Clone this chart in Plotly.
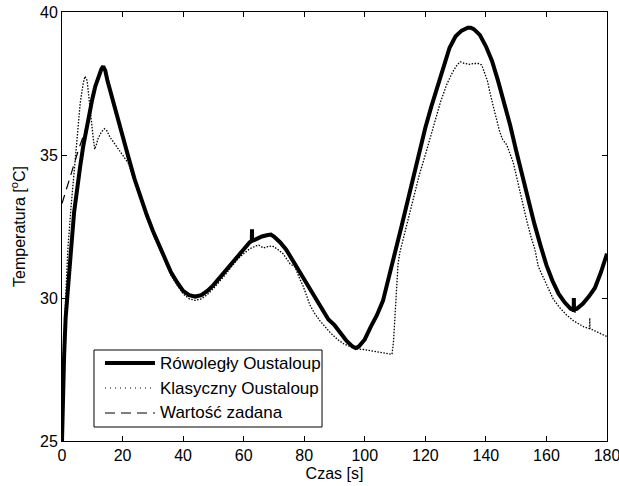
import plotly.graph_objects as go

# Czas [s] i temperatura [°C] - regulator z równoległą aproksymacją Oustaloupa
t_row = [0, 0.3, 0.7, 1.2, 2, 3, 4, 5, 6, 7, 8, 9, 10, 11, 12, 13, 13.6, 14.3, 15, 16,
         18, 20, 22, 24, 26, 28, 30, 32, 34, 36, 38, 40, 42, 44, 46, 48, 50, 52, 54, 56,
         58, 60, 62, 62.7, 62.75, 62.8, 64, 66, 68, 69, 70, 72, 74, 76, 78, 80, 82, 84,
         86, 88, 90, 92, 94, 96, 97, 98, 100, 102, 104, 106, 108, 110, 112, 114, 116,
         118, 120, 122, 124, 126, 128, 130, 132, 134, 135, 136, 138, 140, 142, 144, 146,
         148, 150, 152, 154, 156, 158, 160, 162, 164, 166, 168, 169, 169.05, 169.1, 170,
         172, 174, 176, 178, 180]
T_row = [25.0, 26.6, 28.0, 29.3, 30.6, 31.7, 33.0, 33.9, 34.6, 35.3, 35.9, 36.4, 36.95,
         37.4, 37.75, 38.0, 38.1, 37.95, 37.6, 37.2, 36.45, 35.7, 34.9, 34.15, 33.5, 32.9,
         32.35, 31.85, 31.35, 30.9, 30.55, 30.25, 30.1, 30.05, 30.1, 30.25, 30.45, 30.7,
         30.95, 31.25, 31.5, 31.75, 31.95, 32.0, 32.4, 32.0, 32.05, 32.15, 32.2, 32.22,
         32.15, 31.95, 31.7, 31.35, 31.0, 30.7, 30.35, 29.95, 29.6, 29.25, 29.05, 28.75,
         28.5, 28.3, 28.25, 28.3, 28.55, 29.0, 29.4, 29.9, 30.7, 31.6, 32.45, 33.35, 34.3,
         35.15, 35.95, 36.7, 37.35, 38.05, 38.75, 39.15, 39.35, 39.45, 39.45, 39.4, 39.2,
         38.8, 38.3, 37.6, 36.85, 36.05, 35.15, 34.3, 33.4, 32.6, 31.85, 31.15, 30.6,
         30.15, 29.85, 29.62, 29.58, 30.0, 29.6, 29.62, 29.8, 30.05, 30.35, 30.9, 31.55]

# Regulator z klasyczną aproksymacją Oustaloupa
t_kla = [0, 0.5, 1, 1.5, 2, 3, 4, 5, 6, 7, 7.6, 8.3, 9, 9.7, 10.3, 10.8, 11.3, 12, 13, 14,
         14.8, 16, 18, 20, 22, 24, 26, 28, 30, 32, 34, 36, 38, 40, 42, 44, 46, 48, 50, 52,
         54, 56, 58, 60, 62, 64, 65, 66.5, 68, 69.5, 71, 73, 75.3, 77, 78, 79.7, 81.9,
         83.5, 85.2, 88.5, 91, 93, 95, 97, 99.5, 102, 104, 106, 108, 109, 109.5, 110,
         110.5, 111, 111.6, 113.3, 116, 118, 120.4, 122.5, 125, 127, 129, 130.5, 131.5,
         133, 134.5, 136, 137.5, 138.6, 139.7, 140.5, 141.3, 142.2, 143, 144.6, 145.5,
         146.9, 148, 149, 150, 151.3, 152.5, 153.5, 155, 156.2, 157.3, 159, 160.5, 162.3,
         164.5, 166.7, 169, 172.2, 174.2, 174.3, 174.4, 176, 178, 180]
T_kla = [25.0, 27.6, 29.4, 30.7, 31.8, 33.2, 34.5, 35.7, 36.8, 37.5, 37.75, 37.6, 37.0,
         36.2, 35.6, 35.2, 35.35, 35.6, 35.8, 35.92, 35.85, 35.6, 35.3, 35.0, 34.7, 34.05,
         33.4, 32.8, 32.25, 31.75, 31.25, 30.8, 30.45, 30.15, 29.97, 29.92, 29.97, 30.12,
         30.33, 30.57, 30.82, 31.1, 31.35, 31.55, 31.72, 31.82, 31.85, 31.75, 31.8, 31.82,
         31.72, 31.55, 31.2, 31.08, 30.8, 30.4, 29.75, 29.45, 29.2, 28.8, 28.55, 28.4, 28.3,
         28.22, 28.2, 28.15, 28.12, 28.08, 28.05, 28.03, 28.5, 29.4, 30.3, 31.2, 31.6, 32.3,
         33.45, 34.3, 35.15, 35.9, 36.85, 37.45, 37.9, 38.15, 38.26, 38.2, 38.17, 38.2,
         38.2, 38.15, 37.87, 37.6, 37.2, 36.85, 36.46, 35.8, 35.55, 35.35, 35.0, 34.75,
         34.3, 33.7, 33.1, 32.7, 32.1, 31.7, 31.1, 30.7, 30.35, 29.95, 29.65, 29.4, 29.2,
         29.0, 28.93, 29.3, 28.93, 28.85, 28.75, 28.65]

# Wartość zadana
t_zad = [0, 1, 2, 3, 3.6, 4.5, 5.5, 6.5, 7.5, 8.5, 10, 11, 12, 13, 13.6, 14.3, 16, 18, 20,
         22, 24, 26, 28, 30, 32, 34, 36, 38, 40, 42, 44, 46, 48, 50, 52, 54, 56, 58, 60,
         62, 64, 66, 68, 70, 72, 74, 76, 78, 80, 82, 84, 86, 88, 90, 92, 94, 96, 97, 98,
         100, 102, 104, 106, 108, 110, 112, 114, 116, 118, 120, 122, 124, 126, 128, 130,
         132, 134, 136, 138, 140, 142, 144, 146, 148, 150, 152, 154, 156, 158, 160, 162,
         164, 166, 168, 170, 172, 174, 176, 178, 180]
T_zad = [33.3, 33.65, 34.0, 34.35, 34.6, 34.9, 35.2, 35.5, 35.8, 36.2, 36.9, 37.35, 37.7,
         37.95, 38.05, 37.9, 37.2, 36.45, 35.7, 34.9, 34.15, 33.5, 32.9, 32.35, 31.85,
         31.35, 30.9, 30.55, 30.25, 30.1, 30.05, 30.1, 30.25, 30.45, 30.7, 30.95, 31.25,
         31.5, 31.75, 31.95, 32.05, 32.15, 32.2, 32.15, 31.95, 31.7, 31.35, 31.0, 30.7,
         30.35, 29.95, 29.6, 29.25, 29.05, 28.75, 28.5, 28.3, 28.25, 28.3, 28.55, 29.0,
         29.4, 29.9, 30.7, 31.6, 32.45, 33.35, 34.3, 35.15, 35.95, 36.7, 37.35, 38.05,
         38.75, 39.15, 39.35, 39.45, 39.4, 39.2, 38.85, 38.35, 37.65, 36.9, 36.1, 35.2,
         34.35, 33.45, 32.65, 31.9, 31.2, 30.6, 30.15, 29.85, 29.62, 29.62, 29.8, 30.05,
         30.35, 30.9, 31.55]

series_names = ["Rówoległy Oustaloup", "Klasyczny Oustaloup", "Wartość zadana"]
x_ticks = [0, 20, 40, 60, 80, 100, 120, 140, 160, 180]
y_ticks = [25, 30, 35, 40]

FONT = "Liberation Sans, Arial, Helvetica, sans-serif"

# styles of the three series: (width, dash) for the plot and for the legend key
plot_styles = [(4, "solid"), (1.3, "1.5px,1.5px"), (1.2, "9px,6px")]
key_styles = [(4, "solid"), (1, "1px,4px"), (1.2, "10px,6px")]

fig = go.Figure()
for name, tx, ty, (w, d) in zip(series_names, [t_row, t_kla, t_zad],
                                [T_row, T_kla, T_zad], plot_styles):
    fig.add_trace(go.Scatter(x=tx, y=ty, mode="lines", name=name, showlegend=False,
                             line=dict(color="black", width=w, dash=d)))

axis_common = dict(
    showgrid=False, zeroline=False, showline=True, linecolor="black", linewidth=1,
    mirror="allticks", ticks="inside", ticklen=5, tickwidth=1, tickcolor="black",
    automargin=False, ticklabeloverflow="allow",
    tickfont=dict(family=FONT, size=16, color="black"),
)

# legend box drawn in paper coordinates (bottom-left area of the axes)
box_x0, box_x1, box_y0, box_y1 = 0.0587, 0.4771, 0.0326, 0.2121
key_x0, key_x1, text_x = 0.0789, 0.1706, 0.1761
row_y = [0.1818, 0.1235, 0.0653]

shapes = [dict(type="rect", xref="paper", yref="paper", x0=box_x0, x1=box_x1,
               y0=box_y0, y1=box_y1, line=dict(color="black", width=1),
               fillcolor="white", layer="above")]
annotations = []
for name, y, (w, d) in zip(series_names, row_y, key_styles):
    shapes.append(dict(type="line", xref="paper", yref="paper", x0=key_x0, x1=key_x1,
                       y0=y, y1=y, line=dict(color="black", width=w, dash=d),
                       layer="above"))
    annotations.append(dict(text=name, xref="paper", yref="paper", x=text_x, y=y,
                            xanchor="left", yanchor="middle", showarrow=False,
                            font=dict(family=FONT, size=17, color="black")))

fig.update_layout(
    width=619, height=486,
    margin=dict(l=62, r=12, t=12, b=45),
    paper_bgcolor="white", plot_bgcolor="white",
    font=dict(family=FONT, size=16, color="black"),
    xaxis=dict(range=[0, 180], tickvals=x_ticks,
               title=dict(text="Czas [s]", font=dict(family=FONT, size=16), standoff=4),
               **axis_common),
    yaxis=dict(range=[25, 40], tickvals=y_ticks,
               title=dict(text="Temperatura [<sup>o</sup>C]", font=dict(family=FONT, size=16),
                          standoff=10),
               **axis_common),
    shapes=shapes,
    annotations=annotations,
    showlegend=False,
)

fig.write_html("out.html")
